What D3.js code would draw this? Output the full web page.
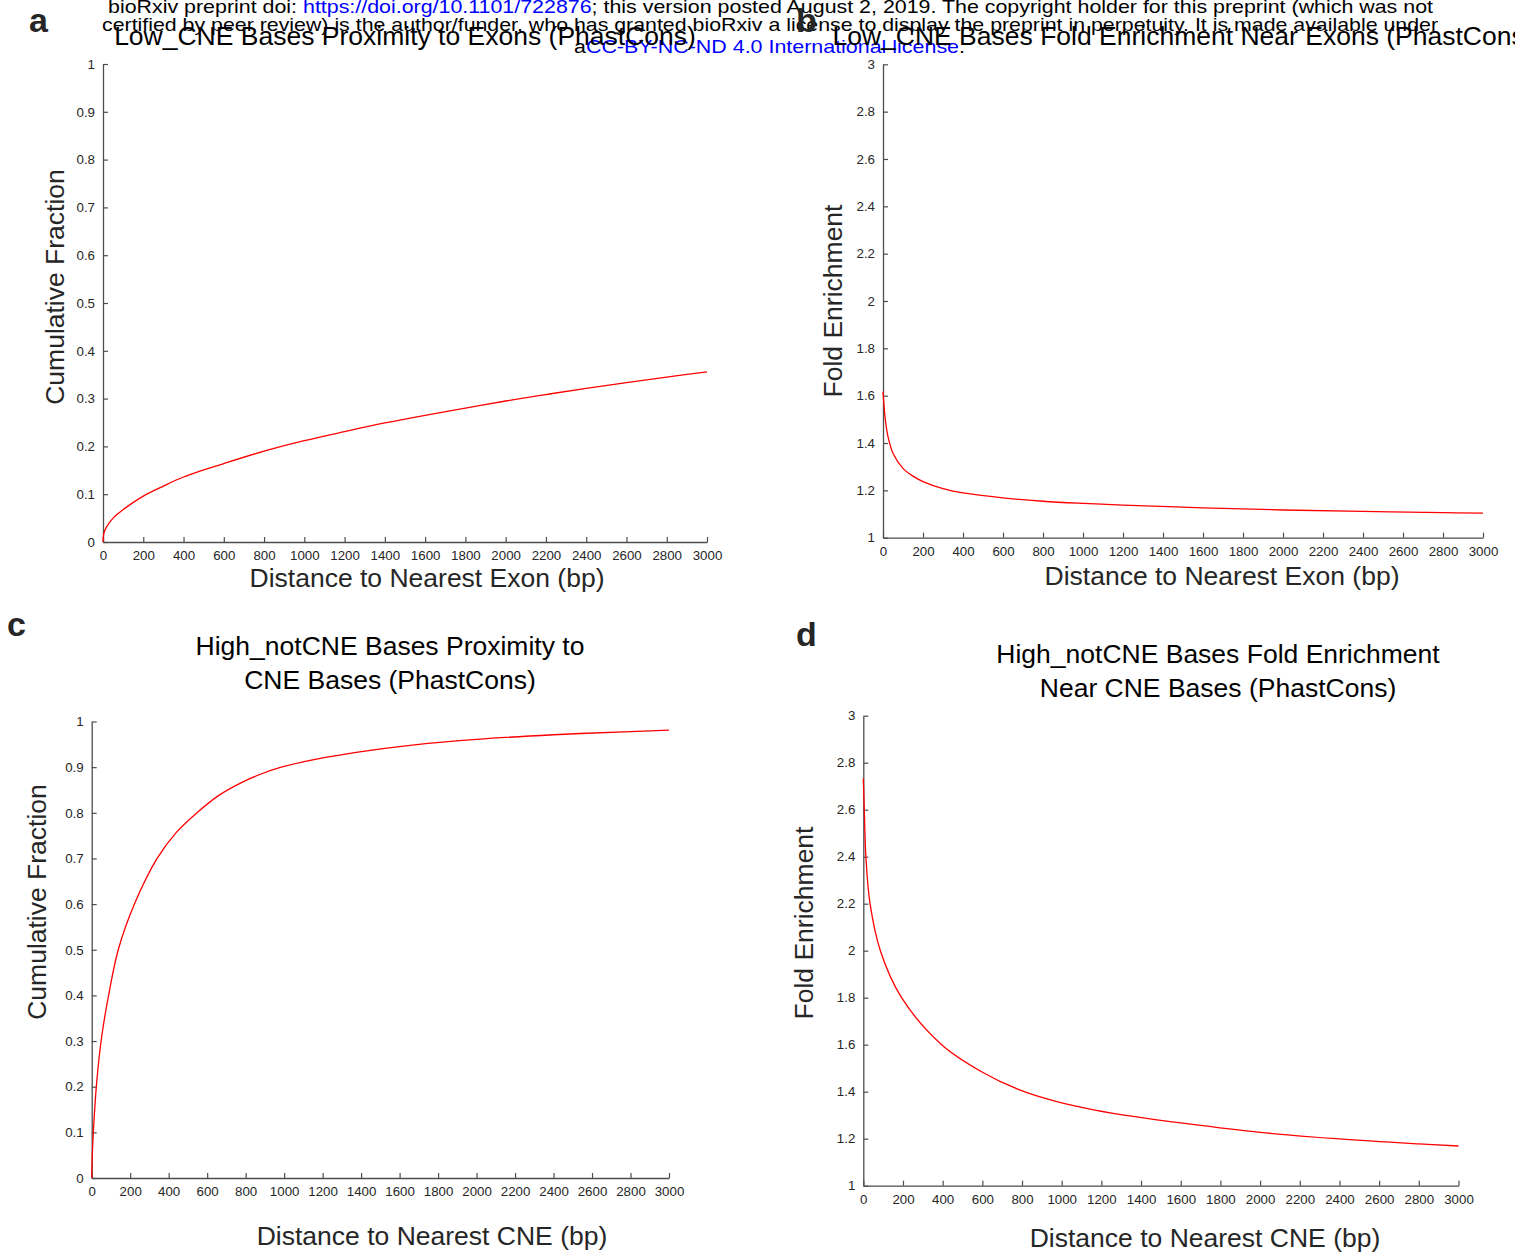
<!DOCTYPE html>
<html>
<head>
<meta charset="utf-8">
<script src="https://cdn.jsdelivr.net/npm/d3@7"></script>
<style>
  html, body { margin: 0; padding: 0; background: #fff; }
  svg { display: block; font-family: "Liberation Sans", Arial, Helvetica, sans-serif; }
</style>
</head>
<body>
<svg id="fig" width="1515" height="1257"></svg>
<script>
// Distance axis ticks shared by all four panels
const distTicks = [0, 200, 400, 600, 800, 1000, 1200, 1400, 1600, 1800, 2000, 2200, 2400, 2600, 2800, 3000];
const fracTicks = [0, 0.1, 0.2, 0.3, 0.4, 0.5, 0.6, 0.7, 0.8, 0.9, 1];
const foldTicks = [1, 1.2, 1.4, 1.6, 1.8, 2, 2.2, 2.4, 2.6, 2.8, 3];
const fracTickLabels = ["0", "0.1", "0.2", "0.3", "0.4", "0.5", "0.6", "0.7", "0.8", "0.9", "1"];
const foldTickLabels = ["1", "1.2", "1.4", "1.6", "1.8", "2", "2.2", "2.4", "2.6", "2.8", "3"];

// a: Low_CNE bases, cumulative fraction vs distance to nearest exon
const distA = [0, 2, 5, 17, 50, 117, 200, 300, 400, 600, 800, 1000, 1200, 1400, 1600, 1800, 2000, 2200, 2400, 2600, 2800, 3000];
const fracA = [0, 0.012, 0.019, 0.031, 0.05, 0.073, 0.096, 0.117, 0.136, 0.164, 0.19, 0.212, 0.231, 0.249, 0.265, 0.28, 0.295, 0.3085, 0.3215, 0.3335, 0.345, 0.356];

// b: Low_CNE bases, fold enrichment vs distance to nearest exon
const distB = [0, 5, 10, 25, 50, 100, 150, 200, 300, 400, 600, 800, 1000, 1200, 1600, 2000, 2400, 2800, 3000];
const foldB = [1.617, 1.56, 1.51, 1.427, 1.357, 1.293, 1.26, 1.237, 1.207, 1.189, 1.168, 1.154, 1.145, 1.138, 1.126, 1.117, 1.111, 1.106, 1.104];

// c: High_notCNE bases, cumulative fraction vs distance to nearest CNE
const distC = [0, 3, 9, 26, 52, 90, 138, 222, 340, 440, 547, 657, 778, 880, 985, 1175, 1383, 1677, 2000, 2400, 2800, 3000];
const fracC = [0, 0.05, 0.105, 0.21, 0.31, 0.405, 0.5, 0.6, 0.7, 0.757, 0.8, 0.837, 0.866, 0.885, 0.9, 0.918, 0.933, 0.949, 0.961, 0.971, 0.978, 0.981];

// d: High_notCNE bases, fold enrichment vs distance to nearest CNE
const distD = [0, 5, 13, 34, 86, 193, 395, 596, 781, 966, 1168, 1369, 1621, 2000, 2400, 2800, 3000];
const foldD = [2.733, 2.6, 2.4, 2.2, 2.0, 1.8, 1.6, 1.485, 1.41, 1.36, 1.322, 1.294, 1.265, 1.227, 1.199, 1.178, 1.169];

const svg = d3.select("#fig");
const axisColor = "#4d4d4d";
const textColor = "#262626";
const labelSize = 26.5;

// Preprint banner
const banner = svg.append("g").attr("font-size", 19);
const l1 = banner.append("text").attr("x", 108).attr("y", 12.5)
  .attr("textLength", 1325).attr("lengthAdjust", "spacingAndGlyphs");
l1.append("tspan").attr("fill", "#000").text("bioRxiv preprint doi: ");
l1.append("tspan").attr("fill", "#0000ff").text("https://doi.org/10.1101/722876");
l1.append("tspan").attr("fill", "#000").text("; this version posted August 2, 2019. The copyright holder for this preprint (which was not");
banner.append("text").attr("x", 102).attr("y", 30.5).attr("fill", "#000")
  .attr("textLength", 1336).attr("lengthAdjust", "spacingAndGlyphs")
  .text("certified by peer review) is the author/funder, who has granted bioRxiv a license to display the preprint in perpetuity. It is made available under");
const l3 = banner.append("text").attr("x", 574).attr("y", 53)
  .attr("textLength", 391).attr("lengthAdjust", "spacingAndGlyphs");
l3.append("tspan").attr("fill", "#000").text("a");
l3.append("tspan").attr("fill", "#0000ff").text("CC-BY-NC-ND 4.0 International license");
l3.append("tspan").attr("fill", "#000").text(".");

function panel(cfg) {
  const x = d3.scaleLinear().domain([0, 3000]).range(cfg.xr);
  const y = d3.scaleLinear().domain(cfg.yd).range(cfg.yr);
  const g = svg.append("g");

  const xAxis = d3.axisBottom(x).tickValues(distTicks).tickFormat(d3.format("d"))
    .tickSizeInner(-5).tickSizeOuter(0).tickPadding(9);
  const yAxis = d3.axisLeft(y).tickValues(cfg.yTicks)
    .tickFormat((d, i) => cfg.yLabels[i])
    .tickSizeInner(-5).tickSizeOuter(0).tickPadding(8);

  const gx = g.append("g").attr("transform", `translate(0,${cfg.yr[0]})`).call(xAxis);
  const gy = g.append("g").attr("transform", `translate(${cfg.xr[0]},0)`).call(yAxis);
  [gx, gy].forEach(a => {
    a.select(".domain").attr("stroke", axisColor).attr("stroke-width", 1.3);
    a.selectAll(".tick line").attr("stroke", axisColor).attr("stroke-width", 1.2);
    a.selectAll(".tick text").attr("fill", textColor).attr("font-size", 13.3)
      .attr("font-family", "Liberation Sans, Arial, sans-serif");
  });

  const line = d3.line().x(d => x(d[0])).y(d => y(d[1])).curve(d3.curveCatmullRom.alpha(0.5));
  g.append("path").datum(d3.zip(cfg.xs, cfg.ys))
    .attr("fill", "none").attr("stroke", "#ff0000").attr("stroke-width", 1.3)
    .attr("d", line);

  // titles and axis labels
  cfg.title.forEach((t, i) => {
    g.append("text").attr("x", cfg.titleX).attr("y", cfg.titleY + i * 34)
      .attr("text-anchor", "middle").attr("font-size", labelSize).attr("fill", "#000").text(t);
  });
  g.append("text").attr("x", cfg.xlabX).attr("y", cfg.xlabY)
    .attr("text-anchor", "middle").attr("font-size", labelSize).attr("fill", textColor).text(cfg.xlab);
  g.append("text").attr("transform", `translate(${cfg.ylabX},${cfg.ylabY}) rotate(-90)`)
    .attr("text-anchor", "middle").attr("font-size", labelSize).attr("fill", textColor).text(cfg.ylab);
  g.append("text").attr("x", cfg.letterX).attr("y", cfg.letterY)
    .attr("font-size", 34).attr("font-weight", "bold").attr("fill", textColor).text(cfg.letter);
}

panel({
  xr: [103, 707], yd: [0, 1], yr: [542, 64], yTicks: fracTicks, yLabels: fracTickLabels,
  xs: distA, ys: fracA,
  title: ["Low_CNE Bases Proximity to Exons (PhastCons)"], titleX: 405, titleY: 45,
  xlab: "Distance to Nearest Exon (bp)", xlabX: 427, xlabY: 587,
  ylab: "Cumulative Fraction", ylabX: 64, ylabY: 287,
  letter: "a", letterX: 29, letterY: 32
});

panel({
  xr: [883, 1483], yd: [1, 3], yr: [537.7, 64.3], yTicks: foldTicks, yLabels: foldTickLabels,
  xs: distB, ys: foldB,
  title: ["Low_CNE Bases Fold Enrichment Near Exons (PhastCons)"], titleX: 1183, titleY: 45,
  xlab: "Distance to Nearest Exon (bp)", xlabX: 1222, xlabY: 585,
  ylab: "Fold Enrichment", ylabX: 842, ylabY: 301,
  letter: "b", letterX: 796, letterY: 32
});

panel({
  xr: [91.7, 669], yd: [0, 1], yr: [1178, 721.5], yTicks: fracTicks, yLabels: fracTickLabels,
  xs: distC, ys: fracC,
  title: ["High_notCNE Bases Proximity to", "CNE Bases (PhastCons)"], titleX: 390, titleY: 655,
  xlab: "Distance to Nearest CNE (bp)", xlabX: 432, xlabY: 1245,
  ylab: "Cumulative Fraction", ylabX: 46, ylabY: 902,
  letter: "c", letterX: 7, letterY: 636
});

panel({
  xr: [863.3, 1458.5], yd: [1, 3], yr: [1185.7, 715.7], yTicks: foldTicks, yLabels: foldTickLabels,
  xs: distD, ys: foldD,
  title: ["High_notCNE Bases Fold Enrichment", "Near CNE Bases (PhastCons)"], titleX: 1218, titleY: 663,
  xlab: "Distance to Nearest CNE (bp)", xlabX: 1205, xlabY: 1247,
  ylab: "Fold Enrichment", ylabX: 813, ylabY: 923,
  letter: "d", letterX: 796, letterY: 646
});
</script>
</body>
</html>
